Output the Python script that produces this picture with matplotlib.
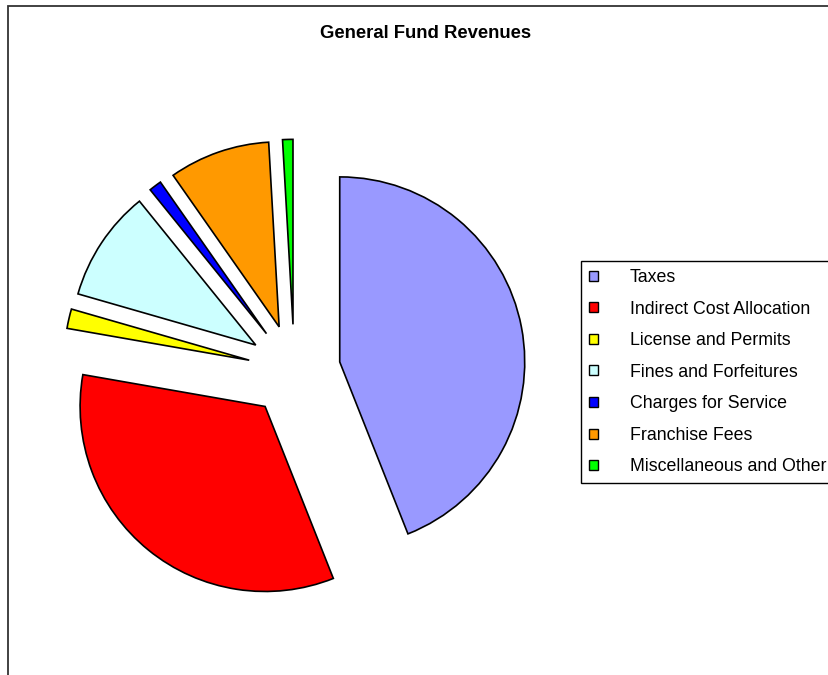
import matplotlib.pyplot as plt
from matplotlib.patches import Rectangle

plt.rcParams['font.family'] = ['Liberation Sans', 'DejaVu Sans']

# revenue shares (percent of total)
categories = ["Taxes", "Indirect Cost Allocation", "License and Permits",
              "Fines and Forfeitures", "Charges for Service",
              "Franchise Fees", "Miscellaneous and Other"]
shares = [43.9, 33.7, 1.7, 9.7, 1.1, 8.8, 0.9]
colors = ["#9999FF", "#FF0000", "#FFFF00", "#CCFFFF",
          "#0000FF", "#FF9900", "#00FF00"]

W, H = 829, 675
fig = plt.figure(figsize=(W / 100, H / 100), dpi=100)
ax = fig.add_axes([0, 0, 1, 1])

# pie laid out in pixel units so the geometry is easy to place
radius = 185
center = (294.3, H - 370.6)
explode = [0.25 * radius] * len(shares)

wedges, _ = ax.pie(shares, colors=colors, startangle=90, counterclock=False,
                   radius=radius, center=center, explode=explode,
                   wedgeprops=dict(edgecolor="black", linewidth=1.2))
ax.set_xlim(0, W)
ax.set_ylim(0, H)
ax.set_aspect("equal")
ax.axis("off")

# chart area border (only top and left edges show)
fig.add_artist(Rectangle((8.5 / W, -0.1), 1.2, 1.1 - 5.5 / H,
                         transform=fig.transFigure, fill=False,
                         edgecolor="#333333", linewidth=1.3))

fig.text(425.5 / W, 1 - 33 / H, "General Fund Revenues", ha="center",
         va="center", fontsize=13.3, fontweight="bold")

leg = ax.legend(wedges, categories, loc="upper left",
                bbox_to_anchor=(581 / W, 1 - 261 / H),
                bbox_transform=fig.transFigure, borderaxespad=0,
                fontsize=12.8, frameon=True, fancybox=False, framealpha=1,
                edgecolor="black", handlelength=0.5, handleheight=0.5,
                handletextpad=1.8, labelspacing=0.82, borderpad=0.45)
leg.get_frame().set_linewidth(1.0)
for h in leg.legend_handles:
    h.set_linewidth(1.0)

fig.savefig("out.png", dpi=100)
